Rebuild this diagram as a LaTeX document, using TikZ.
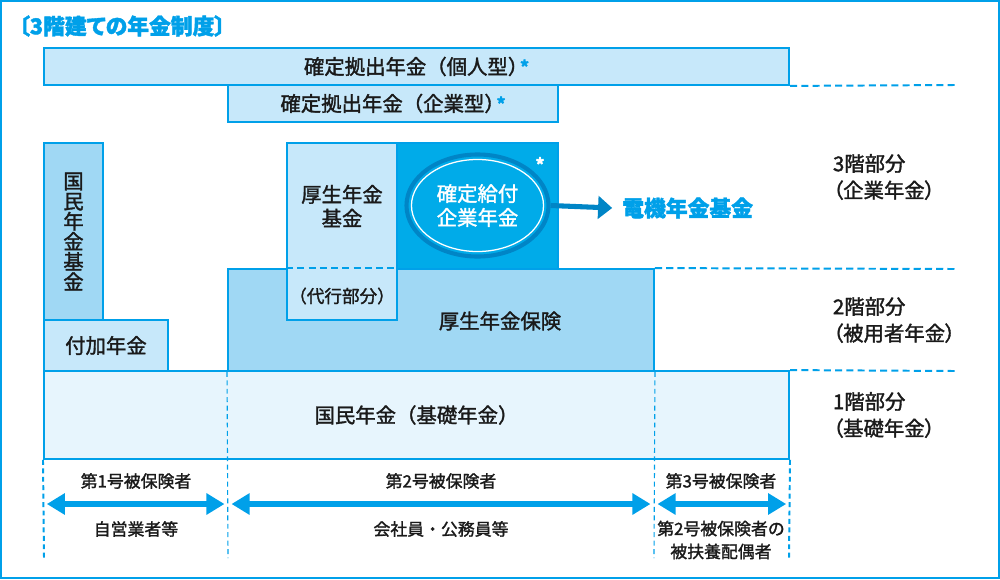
\documentclass[tikz,border=0pt]{standalone}
\usepackage{fontspec}
\setmainfont{Noto Sans CJK JP}[FakeBold=1.6]
\newfontfamily\propfont{Noto Sans CJK JP}[RawFeature=+palt, FakeBold=1.6]
\usetikzlibrary{arrows.meta, positioning, shapes.geometric}
\definecolor{cblue}{HTML}{00A0E9}
\definecolor{cdeep}{HTML}{0085C6}
\definecolor{cbright}{HTML}{00ABE9}
\definecolor{clight}{HTML}{C7E8FA}
\definecolor{cmid}{HTML}{A0D8F4}
\definecolor{cpale}{HTML}{E7F5FD}
\definecolor{cink}{HTML}{1A1A1A}
\newcommand{\blueast}{\hspace{-0.4em}\textcolor{cblue}{\raisebox{0.1ex}{\fontsize{12}{12}\selectfont\bfseries *}}}
\tikzset{
  every node/.style={text=cink},
  box/.style={draw=cblue, fill=#1, line width=1.3pt, inner sep=0pt, align=center, font=\fontsize{14.5}{17}\selectfont},
  box/.default=clight,
  lab/.style={align=center, font=\fontsize{14.5}{17}\selectfont},
  small/.style={align=center, font=\fontsize{12}{16.3}\selectfont},
  floor/.style={align=left, anchor=west, font=\propfont\fontsize{14.5}{19}\selectfont},
  title/.style={font=\propfont\fontsize{15.5}{18}\selectfont\bfseries, text=cblue},
  tierline/.style={draw=cblue, line width=1.4pt, dash pattern=on 5pt off 3pt},
  divline/.style={draw=cblue, line width=#1, dash pattern=on 3.5pt off 2.5pt},
  divline/.default=0.8pt,
  span/.style={{Triangle[length=12.8pt, width=14.5pt]}-{Triangle[length=12.8pt, width=14.5pt]}, draw=cblue, line width=3.6pt},
  flow/.style={-{Triangle[length=10pt, width=16pt]}, draw=cdeep, line width=3.6pt},
}

\begin{document}
\begin{tikzpicture}[x=0.025cm, y=-0.025cm]
  \useasboundingbox (0,0) rectangle (1000,579);
  \draw[cblue, line width=1.6pt] (1,1) rectangle (999,578);
  \node[title, anchor=west] (ttl) at (14,26) {〔3階建ての年金制度〕};
  % 3rd floor
  \node[box, minimum width=18.625cm, minimum height=0.925cm] (kojin) at (416.5,66.5) {確定拠出年金（個人型）\blueast};
  \node[box, minimum width=8.25cm, minimum height=0.925cm] (kigyo) at (393,103.5) {確定拠出年金（企業型）\blueast};
  % 1st floor
  \node[box=cpale, minimum width=18.625cm, minimum height=2.2cm] (kokumin) at (416.5,415) {国民年金（基礎年金）};
  % 2nd floor
  \node[box=cmid, minimum width=10.65cm, minimum height=2.55cm] (kosei) at (441,320) {};
  \node[lab] (koseit) at (500,321) {厚生年金保険};
  \node[box=cmid, minimum width=1.475cm, minimum height=4.425cm, font=\fontsize{14.5}{14.3}\selectfont] (nkikin) at (73.5,231.5) {国\\民\\年\\金\\基\\金};
  \node[box, minimum width=3.1cm, minimum height=1.275cm] (fuka) at (106,345.5) {付加年金};
  \node[box, minimum width=2.75cm, minimum height=4.425cm] (kkikin) at (342,231.5) {};
  \node[lab] (kkikint) at (342,206) {厚生年金\\基金};
  \node[lab, font=\fontsize{12.5}{15}\selectfont] (daiko) at (342,296) {（代行部分）};
  \draw[tierline] (kkikin.west |- kosei.north) -- (kkikin.east |- kosei.north);
  \node[box=cbright, minimum width=4.025cm, minimum height=3.15cm] (dbbox) at (477.5,206) {};
  \node[ellipse, draw=cdeep, line width=2.9pt, minimum width=3.55cm, minimum height=2.55cm, inner sep=0pt] (db) at (477.5,205.5) {};
  \node[ellipse, draw=white, line width=0.9pt, minimum width=3.3cm, minimum height=2.3cm, inner sep=0pt, text=white, align=center, font=\fontsize{14.5}{17}\selectfont] (dbin) at (477.5,205.5) {確定給付\\企業年金};
  \node[text=white, font=\fontsize{12}{12}\selectfont\bfseries] (dbast) at (540,164) {*};
  \node[anchor=west, inner sep=0pt, text=cblue, font=\fontsize{15.5}{18}\selectfont\bfseries] (denki) at (622,208) {電機年金基金};
  \draw[flow] (db.east) -- ([xshift=-7pt]denki.west);
  % tier lines on the right
  \coordinate (t3) at (955,85);
  \coordinate (t2) at (955,269);
  \coordinate (t1) at (955,371);
  \draw[tierline] (kojin.south east) -- (t3);
  \draw[tierline] (kosei.north east) -- (t2);
  \draw[tierline] (kokumin.north east) -- (t1);
  \node[floor] (f3) at (828,177) {3階部分\\（企業年金）};
  \node[floor] (f2) at (828,320) {2階部分\\（被用者年金）};
  \node[floor] (f1) at (828,415) {1階部分\\（基礎年金）};
  % insured groups
  \coordinate (g0) at (44,558);
  \coordinate (g1) at (228,558);
  \coordinate (g2) at (654,558);
  \coordinate (g3) at (789,558);
  \draw[divline=1.4pt] (kokumin.south west) -- (g0);
  \draw[divline] (kosei.south west) -- (g1);
  \draw[divline] (kosei.south east) -- (g2);
  \draw[divline=1.4pt] (kokumin.south east) -- (g3);
  \coordinate (a0) at (44,504);
  \coordinate (a1) at (228,504);
  \coordinate (a2) at (654,504);
  \coordinate (a3) at (789,504);
  \draw[span, shorten <=2pt, shorten >=2.5pt] (a0) -- (a1);
  \draw[span, shorten <=2.5pt, shorten >=2.5pt] (a1) -- (a2);
  \draw[span, shorten <=2.5pt, shorten >=2pt] (a2) -- (a3);
  \node[small] (p1) at (136,481) {第1号被保険者};
  \node[small] (w1) at (136,529) {自営業者等};
  \node[small] (p2) at (441,481) {第2号被保険者};
  \node[small] (w2) at (441,529) {会社員・公務員等};
  \node[small] (p3) at (721,481) {第3号被保険者};
  \node[small] (w3) at (721,540) {第2号被保険者の\\被扶養配偶者};
\end{tikzpicture}
\end{document}
